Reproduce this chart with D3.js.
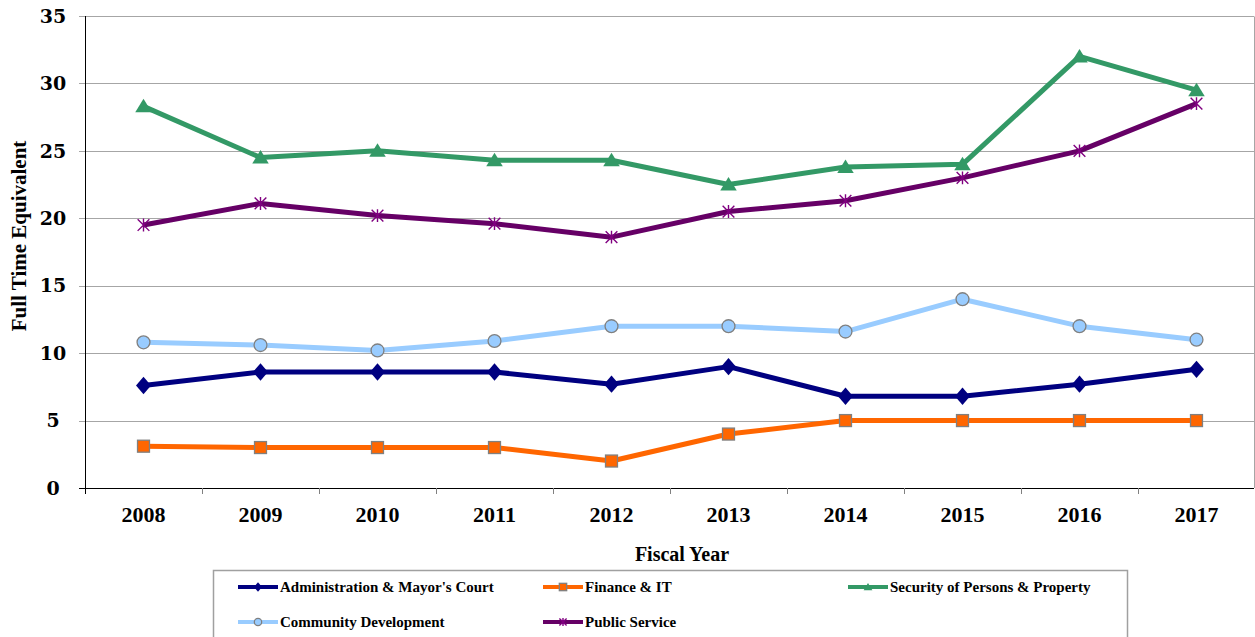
<!DOCTYPE html>
<html>
<head>
<meta charset="utf-8">
<script src="https://cdn.jsdelivr.net/npm/d3@7"></script>
<style>
  html, body { margin: 0; padding: 0; background: #fff; }
  svg { display: block; }
  text { font-family: "Liberation Serif", "Times New Roman", serif; font-weight: bold; fill: #000; }
</style>
</head>
<body>
<svg id="chart" width="1255" height="637"></svg>
<script>
// Fiscal years on the category axis
const years = ["2008", "2009", "2010", "2011", "2012", "2013", "2014", "2015", "2016", "2017"];

// Full time equivalent staffing per department
const adminMayorsCourt = [7.6, 8.6, 8.6, 8.6, 7.7, 9.0, 6.8, 6.8, 7.7, 8.8];
const financeIT        = [3.1, 3.0, 3.0, 3.0, 2.0, 4.0, 5.0, 5.0, 5.0, 5.0];
const securityPersons  = [28.3, 24.5, 25.0, 24.3, 24.3, 22.5, 23.8, 24.0, 32.0, 29.5];
const communityDev     = [10.8, 10.6, 10.2, 10.9, 12.0, 12.0, 11.6, 14.0, 12.0, 11.0];
const publicService    = [19.5, 21.1, 20.2, 19.6, 18.6, 20.5, 21.3, 23.0, 25.0, 28.5];

const seriesNames = [
  "Administration & Mayor's Court",
  "Finance & IT",
  "Security of Persons & Property",
  "Community Development",
  "Public Service"
];

const yTicks = [0, 5, 10, 15, 20, 25, 30, 35];

const series = [
  { name: seriesNames[0], values: adminMayorsCourt, line: "#000080", marker: "diamond" },
  { name: seriesNames[1], values: financeIT,        line: "#ff6600", marker: "square" },
  { name: seriesNames[2], values: securityPersons,  line: "#339966", marker: "triangle" },
  { name: seriesNames[3], values: communityDev,     line: "#99ccff", marker: "circle" },
  { name: seriesNames[4], values: publicService,    line: "#660066", marker: "star" }
];

const svg = d3.select("#chart");

const plot = { left: 85, right: 1254, top: 16, bottom: 488 };

const x = d3.scaleBand().domain(years).range([plot.left, plot.right + 1]).padding(0);
const y = d3.scaleLinear().domain([0, 35]).range([plot.bottom, plot.top]);
const cx = d => x(d) + x.bandwidth() / 2;

// Horizontal gridlines (left stub acts as the y tick mark)
svg.append("g")
  .selectAll("line")
  .data(yTicks.filter(t => t > 0))
  .join("line")
  .attr("x1", plot.left - 6)
  .attr("x2", plot.right)
  .attr("y1", d => Math.round(y(d)) + 0.5)
  .attr("y2", d => Math.round(y(d)) + 0.5)
  .attr("stroke", "#a6a6a6")
  .attr("stroke-width", 1);

// Right border of the plot area
svg.append("line")
  .attr("x1", plot.right + 0.5).attr("x2", plot.right + 0.5)
  .attr("y1", Math.round(y(35)) + 0.5).attr("y2", plot.bottom)
  .attr("stroke", "#a6a6a6");

// Y axis labels
svg.append("g")
  .selectAll("text")
  .data(yTicks)
  .join("text")
  .attr("x", 53)
  .attr("y", d => y(d))
  .attr("dy", "0.35em")
  .attr("text-anchor", "middle")
  .style("font-family", "'DejaVu Serif', serif")
  .style("font-size", "19px")
  .text(d => d);

// Y axis line
svg.append("line")
  .attr("x1", plot.left + 0.5).attr("x2", plot.left + 0.5)
  .attr("y1", Math.round(y(35))).attr("y2", plot.bottom + 6)
  .attr("stroke", "#000");
// tick stub at zero
svg.append("line")
  .attr("x1", plot.left - 6).attr("x2", plot.left)
  .attr("y1", plot.bottom + 0.5).attr("y2", plot.bottom + 0.5)
  .attr("stroke", "#000");

// X axis line and category boundary ticks
svg.append("line")
  .attr("x1", plot.left).attr("x2", plot.right)
  .attr("y1", plot.bottom + 0.5).attr("y2", plot.bottom + 0.5)
  .attr("stroke", "#000");

svg.append("g")
  .selectAll("line")
  .data(years.slice(1))
  .join("line")
  .attr("x1", d => Math.round(x(d)) + 0.5)
  .attr("x2", d => Math.round(x(d)) + 0.5)
  .attr("y1", plot.bottom)
  .attr("y2", plot.bottom + 6)
  .attr("stroke", "#808080");

// X axis labels
svg.append("g")
  .selectAll("text")
  .data(years)
  .join("text")
  .attr("x", d => cx(d))
  .attr("y", 522)
  .attr("text-anchor", "middle")
  .style("font-size", "22px")
  .text(d => d);

// Axis titles
svg.append("text")
  .attr("x", 682)
  .attr("y", 561)
  .attr("text-anchor", "middle")
  .style("font-size", "20px")
  .text("Fiscal Year");

svg.append("text")
  .attr("transform", "translate(26,236) rotate(-90)")
  .attr("text-anchor", "middle")
  .style("font-size", "21px")
  .text("Full Time Equivalent");

// Marker drawing helper
function drawMarker(g, type, color, s) {
  if (type === "diamond") {
    g.append("path")
      .attr("d", `M0,${-s * 0.58}L${s * 0.5},0L0,${s * 0.58}L${-s * 0.5},0Z`)
      .attr("fill", color);
  } else if (type === "square") {
    const h = s * 0.46;
    g.append("rect")
      .attr("x", -h).attr("y", -h).attr("width", 2 * h).attr("height", 2 * h)
      .attr("fill", "#ff6600").attr("stroke", "#808080").attr("stroke-width", 1.3);
  } else if (type === "triangle") {
    g.append("path")
      .attr("d", `M0,${-s * 0.5}L${s * 0.55},${s * 0.4}L${-s * 0.55},${s * 0.4}Z`)
      .attr("fill", color);
  } else if (type === "circle") {
    g.append("circle")
      .attr("r", s * 0.46)
      .attr("fill", "#99ccff").attr("stroke", "#808080").attr("stroke-width", 1.3);
  } else if (type === "star") {
    const r = s * 0.45;
    const p = `M${-r},${-r}L${r},${r}M${-r},${r}L${r},${-r}M0,${-r * 1.1}L0,${r * 1.1}`;
    g.append("path").attr("d", p)
      .attr("stroke", "#800080").attr("stroke-width", 1.4).attr("fill", "none");
  }
}

const line = d3.line()
  .x((d, i) => cx(years[i]))
  .y(d => y(d));

// Series lines and markers
series.forEach(s => {
  const g = svg.append("g");
  g.append("path")
    .attr("d", line(s.values))
    .attr("fill", "none")
    .attr("stroke", s.line)
    .attr("stroke-width", 5)
    .attr("stroke-linejoin", "round");
  s.values.forEach((v, i) => {
    const m = g.append("g").attr("transform", `translate(${cx(years[i])},${y(v)})`);
    const size = s.marker === "circle" ? 14 : (s.marker === "square" ? 13 : (s.marker === "star" ? 13 : 15));
    drawMarker(m, s.marker, s.line, size);
  });
});

// Legend
const legend = svg.append("g");
legend.append("rect")
  .attr("x", 213.5).attr("y", 570.5)
  .attr("width", 914).attr("height", 100)
  .attr("fill", "#fff").attr("stroke", "#a0a0a0").attr("stroke-width", 1.5);

const legendPos = [
  { x: 238, y: 587 },
  { x: 543, y: 587 },
  { x: 848, y: 587 },
  { x: 238, y: 622 },
  { x: 543, y: 622 }
];

series.forEach((s, i) => {
  const p = legendPos[i];
  const g = legend.append("g").attr("transform", `translate(${p.x},${p.y})`);
  g.append("line")
    .attr("x1", 0).attr("x2", 40).attr("y1", 0).attr("y2", 0)
    .attr("stroke", s.line).attr("stroke-width", 4);
  const m = g.append("g").attr("transform", "translate(20,0)");
  drawMarker(m, s.marker, s.line, 8);
  g.append("text")
    .attr("x", 42)
    .attr("y", 0)
    .attr("dy", "0.35em")
    .style("font-size", "15px")
    .text(s.name);
});
</script>
</body>
</html>
